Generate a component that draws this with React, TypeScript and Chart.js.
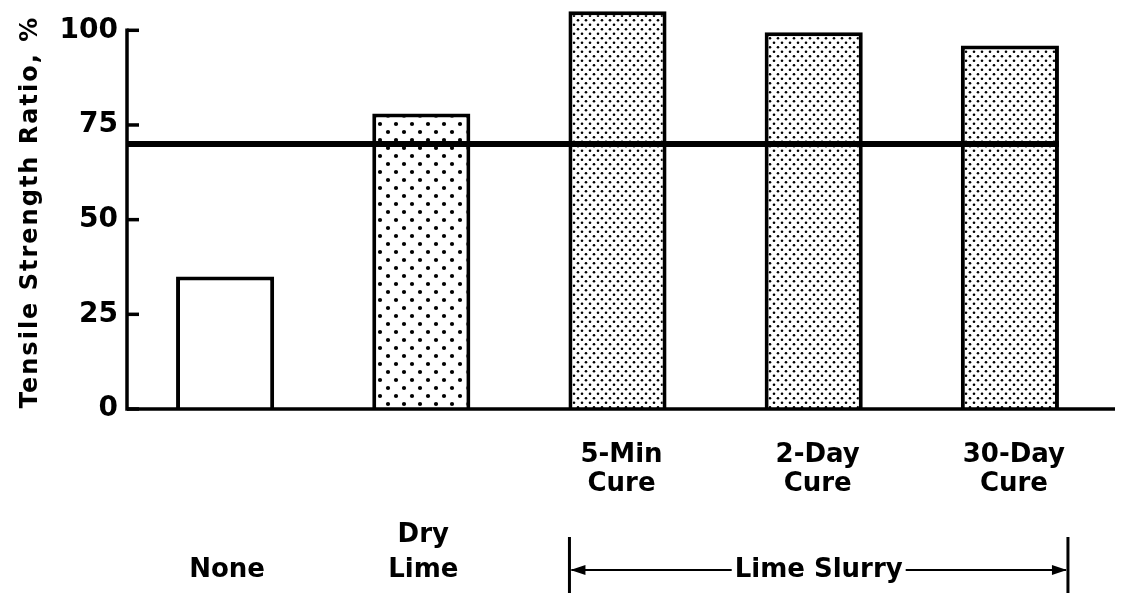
import React, { useEffect, useRef } from "react";
import { Chart, registerables } from "chart.js";

Chart.register(...registerables);

const CATEGORIES = ["None", "Dry Lime", "5-Min Cure", "2-Day Cure", "30-Day Cure"];
const TSR_VALUES = [35, 78, 105, 99.5, 96];
const FILLS = ["none", "coarse", "fine", "fine", "fine"];
const Y_TICKS = [0, 25, 50, 75, 100];
const Y_MIN = 0;
const Y_MAX = 108;
const CRITERION = 70;
const Y_TITLE = "Tensile Strength Ratio, %";
const UPPER_LABELS = [[], [], ["5-Min", "Cure"], ["2-Day", "Cure"], ["30-Day", "Cure"]];
const LOWER_LABELS = [["None"], ["Dry", "Lime"], [], [], []];
const GROUP_LABEL = "Lime Slurry";
const GROUP_RANGE = [2, 4];

const FONT = "DejaVu Sans";

function makeDots(period: number, rowGap: number, r: number) {
  const c = document.createElement("canvas");
  c.width = period;
  c.height = rowGap * 2;
  const g = c.getContext("2d")!;
  g.fillStyle = "#fff";
  g.fillRect(0, 0, c.width, c.height);
  g.fillStyle = "#000";
  const dot = (x: number, y: number) => {
    g.beginPath();
    g.arc(x, y, r, 0, Math.PI * 2);
    g.fill();
  };
  dot(period / 4, rowGap / 2);
  dot((period * 3) / 4, rowGap * 1.5);
  return g.createPattern(c, "repeat")!;
}

const decorPlugin = {
  id: "decor",
  afterDatasetsDraw(chart: any) {
    const { ctx, chartArea, scales } = chart;
    const x = scales.x;
    const y = scales.y;
    const meta = chart.getDatasetMeta(0);
    ctx.save();
    ctx.strokeStyle = "#000";
    ctx.fillStyle = "#000";
    ctx.lineCap = "butt";

    // y axis line (0..100) with inward ticks
    const left = chartArea.left;
    ctx.lineWidth = 3.5;
    ctx.beginPath();
    ctx.moveTo(left, y.getPixelForValue(Y_TICKS[0]) + 1.75);
    ctx.lineTo(left, y.getPixelForValue(Y_TICKS[Y_TICKS.length - 1]) - 1.75);
    ctx.stroke();
    Y_TICKS.forEach((v) => {
      const py = y.getPixelForValue(v);
      ctx.beginPath();
      ctx.moveTo(left, py);
      ctx.lineTo(left + 12, py);
      ctx.stroke();
    });

    // x axis line
    const y0 = y.getPixelForValue(0);
    ctx.beginPath();
    ctx.moveTo(left, y0);
    ctx.lineTo(chartArea.right + 7, y0);
    ctx.stroke();

    // criterion line
    const last = meta.data[meta.data.length - 1];
    const lineEnd = last.x + last.width / 2;
    ctx.lineWidth = 6;
    ctx.beginPath();
    ctx.moveTo(left, y.getPixelForValue(CRITERION));
    ctx.lineTo(lineEnd, y.getPixelForValue(CRITERION));
    ctx.stroke();

    // y title
    ctx.save();
    ctx.font = `bold 24px ${FONT}`;
    (ctx as any).letterSpacing = "2px";
    ctx.textAlign = "center";
    ctx.textBaseline = "middle";
    ctx.translate(31, 212);
    ctx.rotate(-Math.PI / 2);
    ctx.fillText(Y_TITLE, 0, 0);
    ctx.restore();

    // category labels
    ctx.font = `bold 26px ${FONT}`;
    ctx.textAlign = "center";
    ctx.textBaseline = "middle";
    const bottom = chartArea.bottom;
    CATEGORIES.forEach((_, i) => {
      const px = x.getPixelForValue(i);
      UPPER_LABELS[i].forEach((t, k) => {
        ctx.fillText(t, px + 4, bottom + 46 + k * 29);
      });
      const lo = LOWER_LABELS[i];
      lo.forEach((t, k) => {
        ctx.fillText(t, px + 2, bottom + 161 - (lo.length - 1 - k) * 35);
      });
    });

    // group bracket
    const b0 = meta.data[GROUP_RANGE[0]];
    const b1 = meta.data[GROUP_RANGE[1]];
    const gl = b0.x - b0.width / 2 + 1;
    const gr = b1.x + b1.width / 2 + 9;
    const gy = bottom + 161;
    ctx.lineWidth = 3;
    ctx.beginPath();
    ctx.moveTo(gl, bottom + 128);
    ctx.lineTo(gl, bottom + 184);
    ctx.moveTo(gr, bottom + 128);
    ctx.lineTo(gr, bottom + 184);
    ctx.stroke();
    const mid = (gl + gr) / 2;
    const tw = ctx.measureText(GROUP_LABEL).width;
    ctx.fillText(GROUP_LABEL, mid, gy);
    ctx.lineWidth = 2;
    ctx.beginPath();
    ctx.moveTo(gl + 2, gy);
    ctx.lineTo(mid - tw / 2 - 3, gy);
    ctx.moveTo(mid + tw / 2 + 3, gy);
    ctx.lineTo(gr - 2, gy);
    ctx.stroke();
    ctx.beginPath();
    ctx.moveTo(gl + 1, gy);
    ctx.lineTo(gl + 16, gy - 5);
    ctx.lineTo(gl + 16, gy + 5);
    ctx.closePath();
    ctx.moveTo(gr - 1, gy);
    ctx.lineTo(gr - 16, gy - 5);
    ctx.lineTo(gr - 16, gy + 5);
    ctx.closePath();
    ctx.fill();

    ctx.restore();
  },
};

export default function App() {
  const ref = useRef<HTMLCanvasElement | null>(null);
  useEffect(() => {
    if (!ref.current) return;
    const coarse = makeDots(16, 8, 2.1);
    const fine = makeDots(8, 4.5, 1.3);
    const bg = FILLS.map((f) => (f === "coarse" ? coarse : f === "fine" ? fine : "#ffffff"));
    const chart = new Chart(ref.current, {
      type: "bar",
      data: {
        labels: CATEGORIES,
        datasets: [
          {
            data: TSR_VALUES,
            backgroundColor: bg as any,
            borderColor: "#000",
            borderWidth: 4,
            barPercentage: 0.5,
            categoryPercentage: 1,
          },
        ],
      },
      options: {
        responsive: false,
        animation: false,
        layout: { padding: { left: 0, right: 19, top: 0, bottom: 0 } },
        plugins: { legend: { display: false }, tooltip: { enabled: false } },
        scales: {
          x: {
            grid: { display: false, drawTicks: false },
            border: { display: false },
            ticks: { display: false },
            afterFit: (s: any) => {
              s.height = 185;
              s.paddingLeft = 0;
              s.paddingRight = 0;
            },
          },
          y: {
            min: Y_MIN,
            max: Y_MAX,
            grid: { display: false, drawTicks: false },
            border: { display: false },
            afterBuildTicks: (s: any) => {
              s.ticks = Y_TICKS.map((v) => ({ value: v }));
            },
            afterFit: (s: any) => {
              s.width = 127;
              s.paddingTop = 0;
              s.paddingBottom = 0;
            },
            ticks: {
              padding: 9,
              color: "#000",
              font: { family: FONT, size: 28, weight: "bold" },
            },
            title: { display: false },
          },
        },
      },
      plugins: [decorPlugin],
    });
    return () => chart.destroy();
  }, []);
  return (
    <div style={{ position: "absolute", left: 0, top: 0, width: 1127, height: 594, background: "#fff" }}>
      <canvas ref={ref} width={1127} height={594} style={{ display: "block" }} />
    </div>
  );
}
